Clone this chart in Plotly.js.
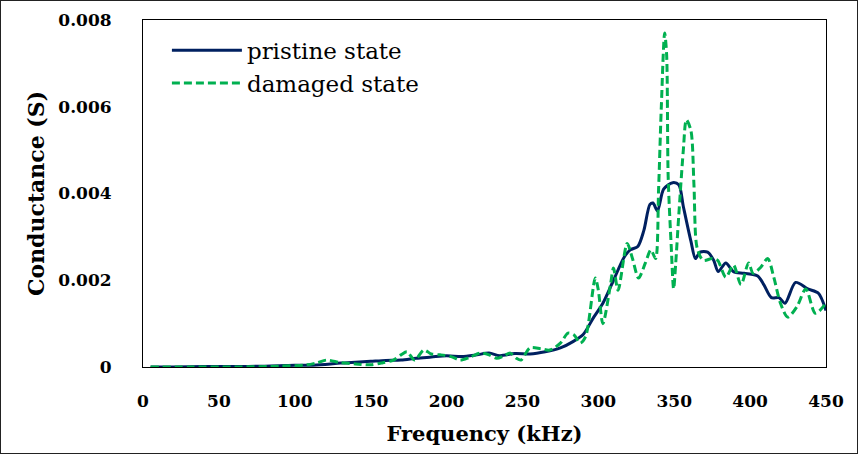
<!DOCTYPE html>
<html><head><meta charset="utf-8">
<script src="https://cdn.plot.ly/plotly-3.0.1.min.js"></script>
<style>html,body{margin:0;padding:0;background:#fff}#chart{width:856px;height:452px;border:1px solid #222}</style>
</head><body><div id="chart"></div>
<script>
const pristineFreq = [5,20,40,60,80,90,100,110,120,130,140,150,160,170,180,190,200,210,220,228,235,245,255,265,275,283,290,297,303,310,317,321,326,330,334,336,339,343,349,353,356,361,364,367,372,376,379,384,389,396,405,409,414,419,423,430,438,445,450];
const pristineVal = [0,0,0.00001,0.00001,0.00002,0.00003,0.00004,0.00004,0.00006,0.00009,0.00011,0.00013,0.00015,0.00016,0.0002,0.00023,0.00026,0.00024,0.00028,0.00032,0.00026,0.00031,0.0003,0.00035,0.00044,0.00058,0.00075,0.00115,0.00147,0.002,0.00253,0.0027,0.00278,0.00315,0.00375,0.00378,0.0036,0.0041,0.00425,0.0042,0.0037,0.0029,0.0025,0.00265,0.00265,0.00246,0.0022,0.0024,0.0022,0.00216,0.0021,0.0019,0.0016,0.0016,0.00147,0.00195,0.0018,0.0017,0.0013];
const damagedFreq = [5,30,60,90,108,115,121,130,140,150,158,165,170,174,179,185,190,196,203,209,215,222,228,233,238,242,246,249,255,262,268,275,280,284,288,291.6,298,300,303,308,310,313,319,322.5,326.5,331,334.6,337.7,339.7,341.5,343.7,345,346,348,349.6,351,353,356,358,361,363,365,369,375,378.6,384,389,394,399,402,407,411.6,415.6,420,424.8,431,436.7,443,450];
const damagedVal = [0,0,0,0.00002,0.00005,0.0001,0.00016,0.0001,0.00007,0.00005,0.0001,0.00016,0.00028,0.00035,0.00016,0.00039,0.0003,0.00028,0.00024,0.00016,0.00022,0.00032,0.00028,0.0002,0.00026,0.00032,0.0002,0.00016,0.00044,0.00042,0.00039,0.00055,0.00078,0.00074,0.00055,0.0007,0.00205,0.00177,0.001,0.0019,0.00228,0.00177,0.00285,0.0025,0.00205,0.0024,0.0027,0.0025,0.0041,0.006,0.0077,0.0072,0.0044,0.0028,0.0018,0.0024,0.0035,0.005,0.0057,0.00545,0.0042,0.00276,0.00246,0.0025,0.00246,0.00207,0.00235,0.0019,0.0024,0.00216,0.0023,0.0025,0.00207,0.00147,0.00115,0.0014,0.0018,0.00124,0.00147];
const seriesNames = ['pristine state','damaged state'];
const xTitle = 'Frequency (kHz)';
const yTitle = 'Conductance (S)';

const serif = 'DejaVu Serif, serif';
const traces = [
  {x: pristineFreq, y: pristineVal, name: seriesNames[0], type: 'scatter', mode: 'lines',
   line: {color: '#002060', width: 3, shape: 'spline', smoothing: 0.8}},
  {x: damagedFreq, y: damagedVal, name: seriesNames[1], type: 'scatter', mode: 'lines',
   line: {color: '#00B050', width: 3, dash: '8px,4px', shape: 'spline', smoothing: 0.8}}
];
const layout = {
  width: 856, height: 452,
  margin: {l: 142, r: 31, t: 19, b: 86},
  paper_bgcolor: '#fff', plot_bgcolor: '#fff',
  showlegend: true,
  legend: {x: 0.035, y: 0.975, xanchor: 'left', yanchor: 'top', bgcolor: 'rgba(0,0,0,0)',
    font: {family: serif, size: 23, color: '#000'}, itemwidth: 70, tracegroupgap: 0},
  xaxis: {range: [0, 450], dtick: 50, tick0: 0, showgrid: false, zeroline: false,
    showline: true, linecolor: '#000', linewidth: 1, mirror: true, ticks: '',
    ticklabelstandoff: 19,
    tickfont: {family: serif, size: 17, color: '#000', weight: 'bold'},
    title: {text: xTitle, font: {family: serif, size: 21, color: '#000', weight: 'bold'}, standoff: 15}},
  yaxis: {range: [0, 0.008], dtick: 0.002, tick0: 0, showgrid: false, zeroline: false,
    showline: true, linecolor: '#000', linewidth: 1, mirror: true, ticks: '',
    ticklabelstandoff: 27,
    tickfont: {family: serif, size: 17, color: '#000', weight: 'bold'},
    title: {text: yTitle, font: {family: serif, size: 22, color: '#000', weight: 'bold'}, standoff: 7}}
};
Plotly.newPlot('chart', traces, layout, {displayModeBar: false, staticPlot: true});
</script></body></html>
